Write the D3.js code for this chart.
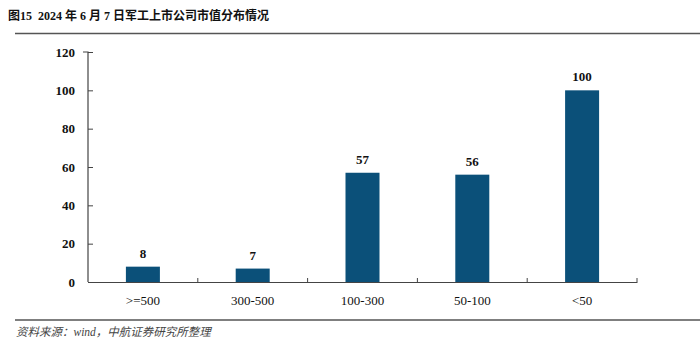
<!DOCTYPE html>
<html>
<head>
<meta charset="utf-8">
<script src="https://cdn.jsdelivr.net/npm/d3@7"></script>
<style>
  body { margin: 0; background: #fff; }
  svg text { font-family: "Liberation Serif", "Noto Sans CJK SC", serif; }
</style>
</head>
<body>
<div id="container"></div>
<script>
/* CONSTANTS AND GLOBALS */
const width = 700,
  height = 354,
  margin = { top: 52, bottom: 72, left: 88, right: 63 };

// chart data
const categories = [">=500", "300-500", "100-300", "50-100", "<50"];
const counts = [8, 7, 57, 56, 100];
const yTicks = [0, 20, 40, 60, 80, 100, 120];

const titleText = "图15  2024 年 6 月 7 日军工上市公司市值分布情况";
const sourceText = "资料来源：wind，中航证券研究所整理";

const data = categories.map((c, i) => ({ cat: c, value: counts[i] }));

const svg = d3.select("#container")
  .append("svg")
  .attr("width", width)
  .attr("height", height);

// title + rules
svg.append("text")
  .attr("x", 8)
  .attr("y", 20)
  .attr("font-size", 12)
  .attr("font-weight", "bold")
  .attr("fill", "#111")
  .style("white-space", "pre")
  .text(titleText);

svg.append("line")
  .attr("x1", 15).attr("x2", width)
  .attr("y1", 33.5).attr("y2", 33.5)
  .attr("stroke", "#555").attr("stroke-width", 1.5);

svg.append("line")
  .attr("x1", 15).attr("x2", width)
  .attr("y1", 320).attr("y2", 320)
  .attr("stroke", "#555").attr("stroke-width", 1.5);

svg.append("text")
  .attr("x", 16)
  .attr("y", 336)
  .attr("font-size", 11.5)
  .attr("font-style", "italic")
  .attr("fill", "#444")
  .text(sourceText);

// + SCALES
const xScale = d3.scaleBand()
  .domain(categories)
  .range([margin.left, width - margin.right]);

const yScale = d3.scaleLinear()
  .domain([0, 120])
  .range([height - margin.bottom, margin.top]);

// + BARS
svg.selectAll(".bar")
  .data(data)
  .join("rect")
  .attr("class", "bar")
  .attr("x", d => xScale(d.cat) + xScale.bandwidth() / 2 - 17)
  .attr("width", 34)
  .attr("y", d => yScale(d.value))
  .attr("height", d => yScale(0) - yScale(d.value))
  .attr("fill", "#0b5079");

svg.selectAll(".val")
  .data(data)
  .join("text")
  .attr("class", "val")
  .attr("x", d => xScale(d.cat) + xScale.bandwidth() / 2)
  .attr("y", d => yScale(d.value) - 9)
  .attr("text-anchor", "middle")
  .attr("font-size", 13)
  .attr("font-weight", "bold")
  .attr("fill", "#111")
  .text(d => d.value);

// + AXES
const yAxis = d3.axisLeft(yScale)
  .tickValues(yTicks)
  .tickSize(-5)
  .tickPadding(13)
  .tickFormat(d3.format("d"));

const yAxisGroup = svg.append("g")
  .attr("transform", `translate(${margin.left}, 0)`)
  .call(yAxis);
yAxisGroup.select(".domain").attr("d", `M${-5},${yScale(120)}H0V${yScale(0)}`);

const xAxis = d3.axisBottom(xScale).tickSize(0).tickPadding(14);
const xAxisGroup = svg.append("g")
  .attr("transform", `translate(0, ${yScale(0)})`)
  .call(xAxis);

// small upward separators between categories
svg.selectAll(".sep")
  .data(categories)
  .join("line")
  .attr("class", "sep")
  .attr("x1", d => xScale(d) + xScale.bandwidth())
  .attr("x2", d => xScale(d) + xScale.bandwidth())
  .attr("y1", yScale(0))
  .attr("y2", yScale(0) - 4)
  .attr("stroke", "#444");

svg.selectAll(".domain").attr("stroke", "#444").attr("stroke-width", 1.2);
svg.selectAll(".tick line").attr("stroke", "#444");
svg.selectAll(".tick text")
  .attr("font-size", 13)
  .attr("fill", "#111")
  .attr("font-family", "Liberation Serif, serif");
yAxisGroup.selectAll(".tick text").attr("font-weight", "bold");
</script>
</body>
</html>
